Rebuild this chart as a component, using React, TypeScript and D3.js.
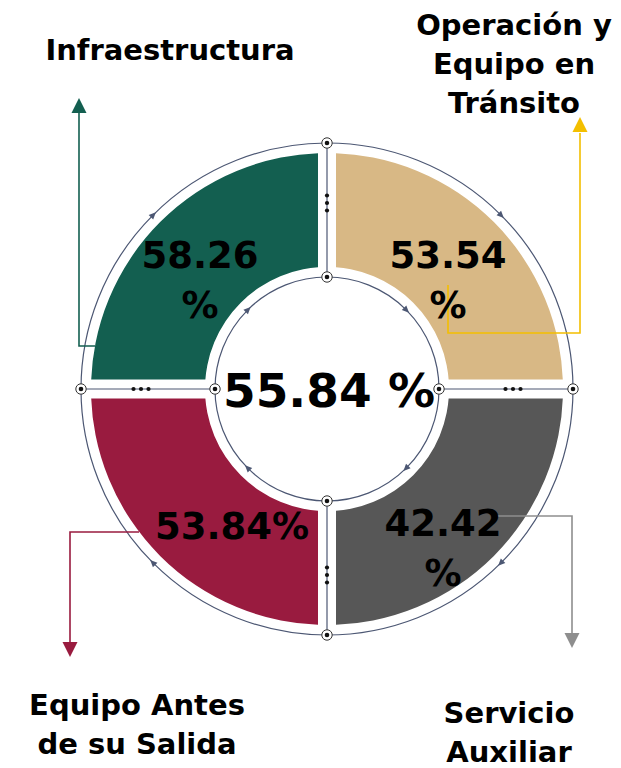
import * as d3 from "d3";

// data
const categories = [
  "Infraestructura",
  "Operación y Equipo en Tránsito",
  "Servicio Auxiliar",
  "Equipo Antes de su Salida",
];
const values = [58.26, 53.54, 42.42, 53.84];
const totalValue = 55.84;
const labelLines = [
  ["Infraestructura"],
  ["Operación y", "Equipo en", "Tránsito"],
  ["Servicio", "Auxiliar"],
  ["Equipo Antes", "de su Salida"],
];
const colors = ["#135f50", "#d8b885", "#575757", "#991b3f"];
const leaderColors = ["#135f50", "#f3bf00", "#8e8e8e", "#991b3f"];

// layout (relative to center)
const layout = [
  { pct: [-127, -121], wrap: true, label: [-157, -329], leader: [[-232, -43], [-248, -43], [-248, -276]], tip: [-248, -291] },
  { pct: [121, -121], wrap: true, label: [187, -354], leader: [[121, -104], [121, -56], [253, -56], [253, -256]], tip: [253, -272] },
  { pct: [116, 147], wrap: true, label: [182, 334], leader: [[168, 127], [245, 127], [245, 245]], tip: [245, 259] },
  { pct: [-95, 150], wrap: false, label: [-190, 326], leader: [[-188, 143], [-257, 143], [-257, 253]], tip: [-257, 268] },
];

const W = 621;
const H = 768;
const cx = 327;
const cy = 389;
const rOuterRing = 246;
const rInnerRing = 112;
const rSegOuter = 236;
const rSegInner = 122;
const gapX = 9;
const gapY = 9.5;
const ringColor = "#4c5773";
const font = "'DejaVu Sans', sans-serif";

export default function App() {
  const arc = d3.arc<any>().innerRadius(rSegInner).outerRadius(rSegOuter);
  const line = d3.line();
  const quads = categories.map((c, i) => ({
    name: c,
    value: values[i],
    start: (i - 1) * (Math.PI / 2),
    end: i * (Math.PI / 2),
  }));
  // clip boxes per quadrant: top-left, top-right, bottom-right, bottom-left
  const signs = [
    [-1, -1],
    [1, -1],
    [1, 1],
    [-1, 1],
  ];
  const angles = [-135, -45, 45, 135];
  const nodeDirs = [
    [0, -1],
    [1, 0],
    [0, 1],
    [-1, 0],
  ];

  const arrowMarker = (r: number, deg: number, key: string) => {
    const t = (deg * Math.PI) / 180;
    const x = r * Math.cos(t);
    const y = r * Math.sin(t);
    const rot = deg + 90;
    return (
      <path
        key={key}
        d="M4,0 L-3,-3.2 L-3,3.2 Z"
        fill={ringColor}
        transform={`translate(${x},${y}) rotate(${rot})`}
      />
    );
  };

  const node = (x: number, y: number, key: string) => (
    <g key={key} transform={`translate(${x},${y})`}>
      <circle r={5.2} fill="#fff" stroke="#333" strokeWidth={1} />
      <circle r={2.3} fill="#111" />
    </g>
  );

  return (
    <svg
      width={W}
      height={H}
      style={{ position: "absolute", left: 0, top: 0, background: "#fff" }}
    >
      <defs>
        {signs.map(([sx, sy], i) => (
          <clipPath id={`q${i}`} key={i}>
            <rect
              x={sx < 0 ? -300 : gapX}
              y={sy < 0 ? -300 : gapY}
              width={300 - gapX}
              height={300 - gapY}
            />
          </clipPath>
        ))}
      </defs>
      <g transform={`translate(${cx},${cy})`}>
        {/* outer ring */}
        <circle r={rOuterRing} fill="none" stroke={ringColor} strokeWidth={1.2} />
        {angles.map((a) => arrowMarker(rOuterRing, a, `o${a}`))}

        {/* segments */}
        {quads.map((q, i) => (
          <path
            key={q.name}
            d={arc({ startAngle: q.start, endAngle: q.end }) || ""}
            fill={colors[i]}
            clipPath={`url(#q${i})`}
          />
        ))}

        {/* inner circle */}
        <circle r={rInnerRing} fill="#fff" stroke={ringColor} strokeWidth={1.2} />
        {angles.map((a) => arrowMarker(rInnerRing, a, `i${a}`))}

        {/* connectors across the gaps */}
        {nodeDirs.map(([dx, dy], i) => (
          <g key={`c${i}`}>
            <line
              x1={dx * rInnerRing}
              y1={dy * rInnerRing}
              x2={dx * rOuterRing}
              y2={dy * rOuterRing}
              stroke={ringColor}
              strokeWidth={1.2}
            />
            {[-1, 0, 1].map((k) => {
              const m = (rInnerRing + rOuterRing) / 2 + 7;
              const x = dx * m + (dx !== 0 ? k * 7.5 : 0);
              const y = dy * m + (dy !== 0 ? k * 7.5 : 0);
              return <circle key={k} cx={x} cy={y} r={2.1} fill="#111" />;
            })}
            {node(dx * rInnerRing, dy * rInnerRing, `ni${i}`)}
            {node(dx * rOuterRing, dy * rOuterRing, `no${i}`)}
          </g>
        ))}

        {/* leaders */}
        {layout.map((l, i) => {
          const [tx, ty] = l.tip;
          const last = l.leader[l.leader.length - 1];
          const up = ty < last[1];
          const hw = 7.5;
          const head = up
            ? `M${tx},${ty} L${tx - hw},${ty + 15} L${tx + hw},${ty + 15} Z`
            : `M${tx},${ty} L${tx - hw},${ty - 15} L${tx + hw},${ty - 15} Z`;
          return (
            <g key={`l${i}`}>
              <path
                d={line(l.leader as [number, number][]) || ""}
                fill="none"
                stroke={leaderColors[i]}
                strokeWidth={1.6}
              />
              <path d={head} fill={leaderColors[i]} />
            </g>
          );
        })}

        {/* value labels */}
        {quads.map((q, i) => {
          const [x, y] = layout[i].pct;
          return (
            <text
              key={`v${i}`}
              x={x}
              y={y}
              textAnchor="middle"
              fontFamily={font}
              fontWeight="bold"
              fontSize={37}
              fill="#000"
            >
              {layout[i].wrap ? (
                <>
                  <tspan x={x} dy={0}>{q.value.toFixed(2)}</tspan>
                  <tspan x={x} dy={50}>%</tspan>
                </>
              ) : (
                `${q.value.toFixed(2)}%`
              )}
            </text>
          );
        })}

        {/* center total */}
        <text
          x={2}
          y={18}
          textAnchor="middle"
          fontFamily={font}
          fontWeight="bold"
          fontSize={47}
          fill="#000"
        >
          {`${totalValue.toFixed(2)} %`}
        </text>

        {/* category labels */}
        {labelLines.map((lines, i) => {
          const [x, y] = layout[i].label;
          return (
            <text
              key={`t${i}`}
              textAnchor="middle"
              fontFamily={font}
              fontWeight="bold"
              fontSize={29}
              fill="#000"
            >
              {lines.map((s, j) => (
                <tspan key={j} x={x} y={y + j * 39}>
                  {s}
                </tspan>
              ))}
            </text>
          );
        })}
      </g>
    </svg>
  );
}
